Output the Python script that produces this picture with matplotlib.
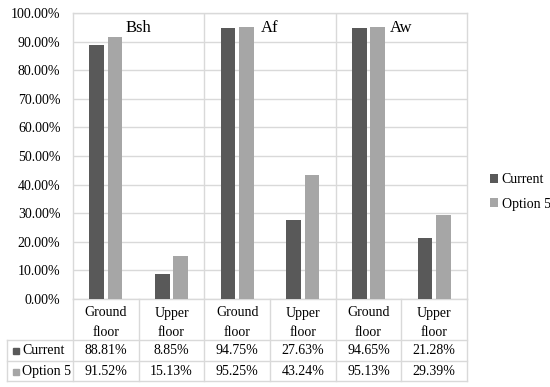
import matplotlib
matplotlib.use("Agg")
import matplotlib.pyplot as plt
from matplotlib.transforms import blended_transform_factory

# data
climates = ["Bsh", "Af", "Aw"]
floors = ["Ground\nfloor", "Upper\nfloor"]
current = [88.81, 8.85, 94.75, 27.63, 94.65, 21.28]
option5 = [91.52, 15.13, 95.25, 43.24, 95.13, 29.39]
series_names = ["Current", "Option 5"]

c_dark = "#595959"
c_light = "#a6a6a6"
c_grid = "#d9d9d9"
plt.rcParams["font.family"] = "Liberation Serif"

fig = plt.figure(figsize=(5.5, 3.87), dpi=100)
ax = fig.add_axes([73 / 550, 1 - 299 / 387, (467 - 73) / 550, (299 - 13) / 387])

n = len(current)
x = list(range(n))
w = 0.22
ax.bar([i - 0.14 for i in x], current, w, color=c_dark, label=series_names[0], zorder=3)
ax.bar([i + 0.14 for i in x], option5, w, color=c_light, label=series_names[1], zorder=3)

ax.set_xlim(-0.5, n - 0.5)
ax.set_ylim(0, 100)
ax.set_yticks(range(0, 101, 10))
ax.set_yticklabels(["%.2f%%" % v for v in range(0, 101, 10)], fontsize=10)
ax.set_xticks([])
ax.tick_params(axis="y", length=0, pad=9)
ax.grid(axis="y", color=c_grid, linewidth=1, zorder=0)
for s in ax.spines.values():
    s.set_color(c_grid)
    s.set_linewidth(1)

# group separators and climate labels
for g in range(1, len(climates)):
    ax.axvline(2 * g - 0.5, color=c_grid, linewidth=1, zorder=1)
for g, name in enumerate(climates):
    ax.text(2 * g + 0.5, 94.6, name, ha="center", va="center", fontsize=12)

# data table below the axis
tr = blended_transform_factory(ax.transData, ax.transAxes)
ftr = blended_transform_factory(fig.transFigure, ax.transAxes)
hpx = 299 - 13
def yf(py):
    return (299 - py) / hpx

x_left = -0.5 - (73 - 7) / (394 / 6)
rows_y = [yf(340), yf(361), yf(381)]
kw = dict(transform=tr, clip_on=False, color=c_grid, linewidth=1)
for yy in rows_y:
    ax.plot([x_left, n - 0.5], [yy, yy], **kw)
ax.plot([x_left, x_left], [rows_y[0], rows_y[2]], **kw)
for i in range(n + 1):
    ax.plot([i - 0.5, i - 0.5], [0, rows_y[2]], **kw)

for i in range(n):
    ax.text(i, yf(322.5), floors[i % 2], transform=tr, ha="center", va="center",
            fontsize=10, linespacing=1.6)
    ax.text(i, yf(351), "%.2f%%" % current[i], transform=tr, ha="center",
            va="center", fontsize=10)
    ax.text(i, yf(371.5), "%.2f%%" % option5[i], transform=tr, ha="center",
            va="center", fontsize=10)

for r, (name, col) in enumerate(zip(series_names, [c_dark, c_light])):
    yy = yf(351) if r == 0 else yf(371.5)
    ax.plot([16 / 550], [yy], marker="s", markersize=5, color=col,
            transform=ftr, clip_on=False)
    fig.text(22 / 550, yy, name, fontsize=10, va="center", transform=ftr)

# legend
fig.legend(loc="center left", bbox_to_anchor=(480 / 550, 1 - 192 / 387),
           frameon=False, fontsize=10, handlelength=0.6, handleheight=0.6,
           handletextpad=0.25, labelspacing=0.8, borderpad=0.2)

fig.savefig("out.png", dpi=100)
